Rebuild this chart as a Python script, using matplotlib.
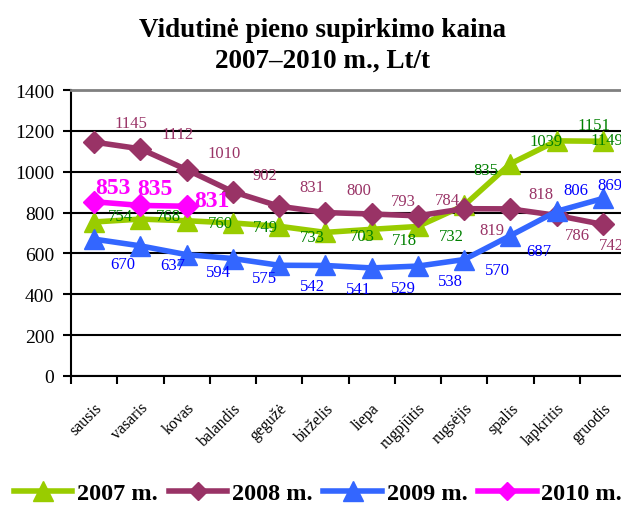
import matplotlib.pyplot as plt
import matplotlib.transforms as mtrans
import numpy as np

plt.rcParams['font.family'] = ['Liberation Serif', 'DejaVu Serif']

months = ['sausis', 'vasaris', 'kovas', 'balandis', 'gegužė', 'birželis',
          'liepa', 'rugpjūtis', 'rugsėjis', 'spalis', 'lapkritis', 'gruodis']
price_2007 = [754, 768, 760, 749, 733, 703, 718, 732, 835, 1039, 1151, 1149]
price_2008 = [1145, 1112, 1010, 902, 831, 800, 793, 784, 819, 818, 786, 742]
price_2009 = [670, 637, 594, 575, 542, 541, 529, 538, 570, 687, 806, 869]
price_2010 = [853, 835, 831]

# kur dedami skaičiai prie taškų (px: dx, dy aukštyn)
off_2007 = [(26, 6), (28, 3), (34, -2), (33, -4), (33, -11), (37, -4),
            (33, -11), (33, -10), (22, 35), (36, 23), (37, 16), (4, 1)]
off_2008 = [(37, 19), (37, 15), (37, 17), (32, 17), (33, 19), (33, 23),
            (32, 13), (30, 16), (28, -21), (31, 15), (21, -20), (9, -21)]
off_2009 = [(29, -25), (32, -19), (32, -17), (32, -19), (33, -21), (33, -24),
            (32, -20), (33, -15), (33, -10), (28, -15), (19, 21), (7, 13)]
off_2010 = [(19, 14), (15, 17), (25, 6)]

fig = plt.figure(figsize=(6.21, 5.06), dpi=100)
ax = fig.add_axes([71 / 621, 129 / 506, 555 / 621, 286 / 506])

x = np.arange(len(months))
series = [
    (price_2007, '2007 m.', '#99CC00', '^', 15, '#008000', off_2007, 'normal', 12),
    (price_2008, '2008 m.', '#993366', 'D', 11, '#993366', off_2008, 'normal', 12),
    (price_2009, '2009 m.', '#3366FF', '^', 15, '#0000FF', off_2009, 'normal', 12),
    (price_2010, '2010 m.', '#FF00FF', 'D', 11, '#FF00FF', off_2010, 'bold', 17),
]

for vals, name, col, mk, ms, tcol, offs, fw, fs in series:
    xs = x[:len(vals)]
    ax.plot(xs, vals, color=col, lw=4, marker=mk, markersize=ms,
            markeredgecolor=col, label=name, clip_on=False)
    for xi, v, (dx, dy) in zip(xs, vals, offs):
        ax.annotate(str(v), (xi, v), xytext=(dx, dy), textcoords='offset pixels',
                    ha='center', va='center', color=tcol, fontsize=fs,
                    fontweight=fw, annotation_clip=False)

ax.set_xlim(-0.5, 11.5)
ax.set_ylim(0, 1400)
ax.set_yticks(range(0, 1401, 200))
ax.yaxis.grid(True, color='black', lw=1.5)
ax.set_axisbelow(True)

ax.set_xticks(np.arange(-0.5, 12, 1))
ax.set_xticklabels([])
ax.set_xticks(x, minor=True)
ax.set_xticklabels(months, minor=True, rotation=45, ha='right', va='top',
                   rotation_mode='anchor', fontsize=11.5)
shift = mtrans.ScaledTranslation(-6 / 100, 0, fig.dpi_scale_trans)
for lab in ax.get_xticklabels(minor=True):
    lab.set_transform(lab.get_transform() + shift)
ax.tick_params(axis='x', which='minor', length=0, pad=17)
ax.tick_params(axis='x', which='major', length=6, width=1.5, direction='out')
ax.tick_params(axis='y', length=6, width=1.5, direction='out', labelsize=14,
               pad=6)

ax.spines['top'].set_color('#808080')
ax.spines['top'].set_linewidth(2)
ax.spines['right'].set_visible(False)
ax.spines['left'].set_linewidth(1.5)
ax.spines['bottom'].set_linewidth(1.5)

fig.text(0.519, 1 - 37 / 506, 'Vidutinė pieno supirkimo kaina',
         ha='center', va='baseline', fontsize=19.5, fontweight='bold')
fig.text(0.519, 1 - 68 / 506, '2007–2010 m., Lt/t',
         ha='center', va='baseline', fontsize=19.5, fontweight='bold')

leg = fig.legend(loc='center', bbox_to_anchor=(0.512, 1 - 494 / 506), ncol=4,
                 frameon=False, prop={'weight': 'bold', 'size': 17.5},
                 handlelength=2.4, handletextpad=0.2, columnspacing=0.45,
                 borderaxespad=0)
for h in leg.legend_handles:
    if h.get_marker() == 'D':
        h.set_markersize(9)

fig.savefig('out.png', dpi=100)
